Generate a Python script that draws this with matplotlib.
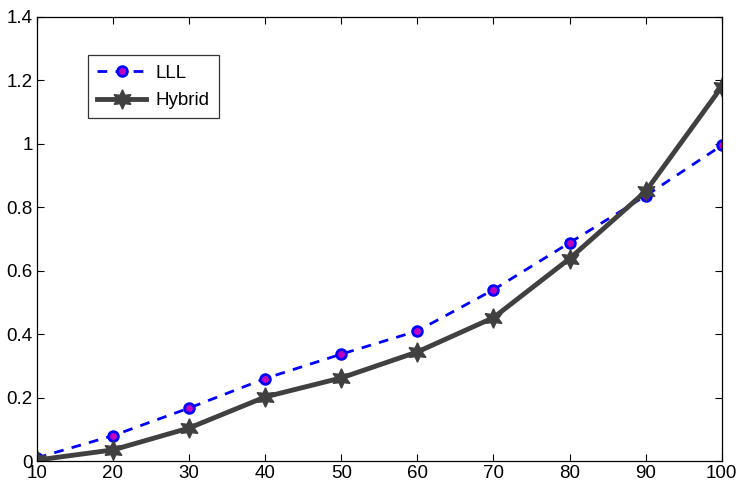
import numpy as np
import matplotlib
matplotlib.use("Agg")
import matplotlib.pyplot as plt

plt.rcParams["font.family"] = ["Liberation Sans", "DejaVu Sans"]

# data
x = [10, 20, 30, 40, 50, 60, 70, 80, 90, 100]
lll = [0.01, 0.08, 0.167, 0.26, 0.337, 0.41, 0.54, 0.688, 0.836, 0.995]
hybrid = [0.003, 0.035, 0.104, 0.202, 0.262, 0.344, 0.452, 0.638, 0.85, 1.18]

fig = plt.figure(figsize=(7.38, 4.84), dpi=100)
ax = fig.add_axes([0.050, 0.0475, 0.928, 0.9175])

ax.plot(x, lll, linestyle="--", color="blue", linewidth=2,
        marker="o", markersize=7, markerfacecolor="#c000c0",
        markeredgecolor="blue", markeredgewidth=2, label="LLL",
        dashes=(3.5, 3))
ax.plot(x, hybrid, linestyle="-", color="#404040", linewidth=3.5,
        marker=(6, 1, 0), markersize=14, markerfacecolor="#404040",
        markeredgecolor="#404040", label="Hybrid")

ax.set_xlim(10, 100)
ax.set_ylim(0, 1.4)
ax.set_xticks(x)
ax.set_yticks([0, 0.2, 0.4, 0.6, 0.8, 1, 1.2, 1.4])
ax.set_yticklabels(["0", "0.2", "0.4", "0.6", "0.8", "1", "1.2", "1.4"])
ax.tick_params(direction="in", top=True, right=True, labelsize=13.5,
               length=5, width=0.8, pad=3)
for s in ax.spines.values():
    s.set_linewidth(0.9)

leg = ax.legend(loc="upper left", bbox_to_anchor=(0.0745, 0.914), fontsize=13.5,
                frameon=True, fancybox=False, edgecolor="black",
                handlelength=2.6, borderpad=0.5, labelspacing=0.55,
                handletextpad=0.5, borderaxespad=0)
leg.get_frame().set_linewidth(0.9)

fig.savefig("out.png", dpi=100)
